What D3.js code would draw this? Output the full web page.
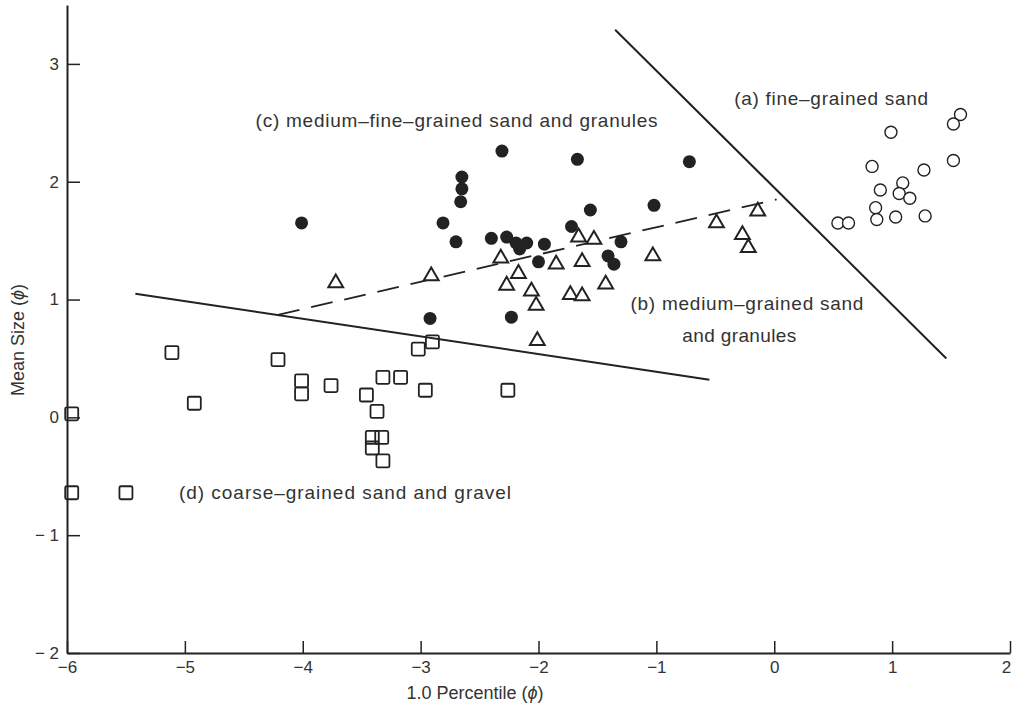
<!DOCTYPE html>
<html>
<head>
<meta charset="utf-8">
<script src="https://cdn.jsdelivr.net/npm/d3@7"></script>
<style>
  body { margin: 0; background: #fff; }
  text { font-family: "Liberation Sans", Arial, sans-serif; fill: #333; }
</style>
</head>
<body>
<div id="chart"></div>
<script>
// (a) fine-grained sand - open circles
var fineX = [1.58, 1.52, 0.99, 0.83, 1.52, 1.27, 1.09, 0.90, 1.06, 1.15, 0.86, 0.87, 1.03, 1.28, 0.54, 0.63];
var fineY = [2.57, 2.49, 2.42, 2.13, 2.18, 2.10, 1.99, 1.93, 1.90, 1.86, 1.78, 1.68, 1.70, 1.71, 1.65, 1.65];

// (b) medium-grained sand and granules - triangles
var medX = [-3.72, -2.91, -2.32, -2.17, -2.27, -2.06, -2.02, -1.85, -1.66, -1.53, -1.63, -1.43, -1.73, -1.63, -2.01, -1.03, -0.49, -0.27, -0.22, -0.14];
var medY = [1.14, 1.20, 1.35, 1.22, 1.12, 1.07, 0.95, 1.30, 1.53, 1.51, 1.32, 1.13, 1.04, 1.03, 0.65, 1.37, 1.65, 1.55, 1.44, 1.75];

// (c) medium-fine-grained sand and granules - filled circles
var mfX = [-4.01, -2.31, -1.67, -0.72, -2.65, -2.65, -2.66, -2.81, -2.70, -2.40, -2.27, -2.19, -2.10, -2.16, -1.95, -2.00, -1.72, -1.56, -1.02, -1.30, -1.41, -1.36, -2.92, -2.23];
var mfY = [1.65, 2.26, 2.19, 2.17, 2.04, 1.94, 1.83, 1.65, 1.49, 1.52, 1.53, 1.48, 1.48, 1.43, 1.47, 1.32, 1.62, 1.76, 1.80, 1.49, 1.37, 1.30, 0.84, 0.85];

// (d) coarse-grained sand and gravel - squares
var coarseX = [-5.11, -4.92, -5.96, -5.96, -5.50, -4.21, -4.01, -4.01, -3.76, -3.46, -3.32, -3.17, -3.37, -2.96, -3.02, -2.90, -2.26, -3.41, -3.33, -3.41, -3.32];
var coarseY = [0.55, 0.12, 0.03, -0.64, -0.64, 0.49, 0.31, 0.20, 0.27, 0.19, 0.34, 0.34, 0.05, 0.23, 0.58, 0.64, 0.23, -0.17, -0.17, -0.26, -0.37];

// boundary lines [x1, y1, x2, y2]
var lineAB = [-1.35, 3.29, 1.46, 0.50];
var lineCD = [-5.42, 1.05, -0.55, 0.32];
var lineBC = [-4.21, 0.87, 0.02, 1.85];

var xTicks = [-6, -5, -4, -3, -2, -1, 0, 1, 2];
var yTicks = [-2, -1, 0, 1, 2, 3];

// region labels: text, left x and middle y in data units, printed width in px
var labelText = ["(a) fine\u2013grained sand", "(c) medium\u2013fine\u2013grained sand and granules",
  "(b) medium\u2013grained sand", "and granules", "(d) coarse\u2013grained sand and gravel"];
var labelX = [-0.34, -4.40, -1.22, -0.78, -5.05];
var labelY = [2.71, 2.52, 0.97, 0.70, -0.64];
var labelW = [194, 402, 233, 114, 332];

var W = 1013, H = 719;
var svg = d3.select("#chart").append("svg")
  .attr("width", W).attr("height", H);

var x = d3.scaleLinear().domain([-6, 2]).range([67, 1010]);
var y = d3.scaleLinear().domain([-2, 3.5]).range([653, 5]);

var ink = "#222";

// axes
var xAxis = svg.append("g")
  .attr("transform", "translate(0," + y(-2) + ")")
  .call(d3.axisBottom(x).tickValues(xTicks).tickSizeInner(-12).tickSizeOuter(0)
    .tickFormat(function(d) { return d < 0 ? "\u2212" + Math.abs(d) : d; }));
xAxis.select(".domain").attr("stroke", ink).attr("stroke-width", 2);
xAxis.selectAll(".tick line").attr("stroke", ink).attr("stroke-width", 1.5);
xAxis.selectAll(".tick text").attr("y", 8).attr("font-size", 17).attr("fill", "#333")
  .attr("font-family", "Liberation Sans, Arial, sans-serif")
  .attr("dx", function(d) { return d === 2 ? -4 : 0; });

var yAxis = svg.append("g")
  .attr("transform", "translate(" + x(-6) + ",0)")
  .call(d3.axisLeft(y).tickValues(yTicks).tickSizeInner(-13).tickSizeOuter(0)
    .tickFormat(function(d) { return d < 0 ? "\u2212 " + Math.abs(d) : d; }));
yAxis.select(".domain").attr("stroke", ink).attr("stroke-width", 2);
yAxis.selectAll(".tick line").attr("stroke", ink).attr("stroke-width", 1.5);
yAxis.selectAll(".tick text").attr("x", -8).attr("font-size", 17).attr("fill", "#333")
  .attr("font-family", "Liberation Sans, Arial, sans-serif");

// axis titles
var xt = svg.append("text")
  .attr("x", 475).attr("y", 699)
  .attr("text-anchor", "middle").attr("font-size", 18);
xt.append("tspan").text("1.0 Percentile (");
xt.append("tspan").attr("font-style", "italic").text("\u03d5");
xt.append("tspan").text(")");

var yt = svg.append("text")
  .attr("transform", "translate(24,340) rotate(-90)")
  .attr("text-anchor", "middle").attr("font-size", 18);
yt.append("tspan").text("Mean Size (");
yt.append("tspan").attr("font-style", "italic").text("\u03d5");
yt.append("tspan").text(")");

// boundary lines
[lineAB, lineCD].forEach(function(l) {
  svg.append("line")
    .attr("x1", x(l[0])).attr("y1", y(l[1]))
    .attr("x2", x(l[2])).attr("y2", y(l[3]))
    .attr("stroke", ink).attr("stroke-width", 2);
});
svg.append("line")
  .attr("x1", x(lineBC[0])).attr("y1", y(lineBC[1]))
  .attr("x2", x(lineBC[2])).attr("y2", y(lineBC[3]))
  .attr("stroke", ink).attr("stroke-width", 1.8)
  .attr("stroke-dasharray", "22,12");

function pts(xs, ys) {
  return xs.map(function(v, i) { return {x: v, y: ys[i]}; });
}

// open circles
svg.append("g").selectAll("circle")
  .data(pts(fineX, fineY)).enter().append("circle")
  .attr("cx", function(d) { return x(d.x); })
  .attr("cy", function(d) { return y(d.y); })
  .attr("r", 6)
  .attr("fill", "#fff").attr("stroke", ink).attr("stroke-width", 1.4);

// triangles
svg.append("g").selectAll("path")
  .data(pts(medX, medY)).enter().append("path")
  .attr("d", d3.symbol().type(d3.symbolTriangle).size(95))
  .attr("transform", function(d) { return "translate(" + x(d.x) + "," + y(d.y) + ")"; })
  .attr("fill", "#fff").attr("stroke", ink).attr("stroke-width", 2)
  .attr("stroke-linejoin", "miter");

// filled circles
svg.append("g").selectAll("circle")
  .data(pts(mfX, mfY)).enter().append("circle")
  .attr("cx", function(d) { return x(d.x); })
  .attr("cy", function(d) { return y(d.y); })
  .attr("r", 6.5)
  .attr("fill", ink);

// squares
svg.append("g").selectAll("rect")
  .data(pts(coarseX, coarseY)).enter().append("rect")
  .attr("x", function(d) { return x(d.x) - 6.5; })
  .attr("y", function(d) { return y(d.y) - 6.5; })
  .attr("width", 13).attr("height", 13).attr("rx", 1.5)
  .attr("fill", "none").attr("stroke", ink).attr("stroke-width", 1.8);

// region labels
svg.append("g").selectAll("text")
  .data(labelText).enter().append("text")
  .attr("x", function(d, i) { return x(labelX[i]); })
  .attr("y", function(d, i) { return y(labelY[i]); })
  .attr("dy", "0.35em")
  .attr("font-size", 19)
  .attr("textLength", function(d, i) { return labelW[i]; })
  .attr("lengthAdjust", "spacing")
  .text(function(d) { return d; });
</script>
</body>
</html>
